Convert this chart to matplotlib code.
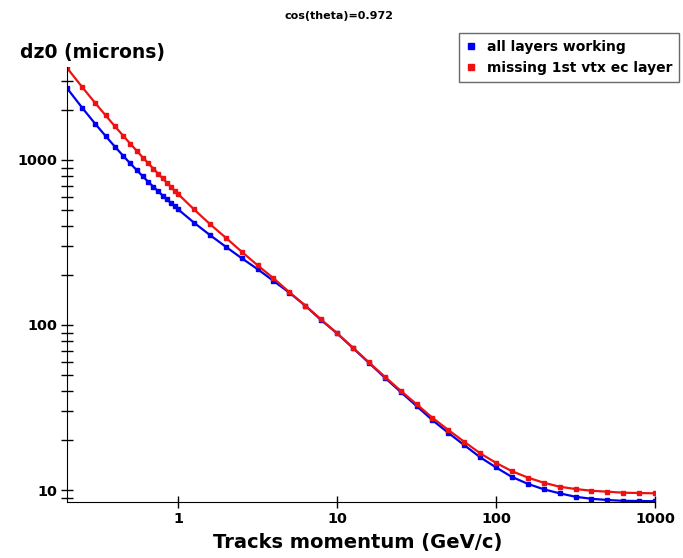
import numpy as np
import matplotlib
matplotlib.use("Agg")
import matplotlib.pyplot as plt
from matplotlib.lines import Line2D
from matplotlib.ticker import LogLocator, NullFormatter, FixedLocator, FixedFormatter, NullLocator

plt.rcParams['font.family'] = ['DejaVu Sans']
plt.rcParams['font.weight'] = 'bold'

# momentum points (GeV/c)
p_vals = [0.2, 0.25, 0.3, 0.35, 0.4, 0.45, 0.5, 0.55, 0.6, 0.65, 0.7, 0.75,
          0.8, 0.85, 0.9, 0.95, 1.0,
          1.259, 1.585, 1.995, 2.512, 3.162, 3.981, 5.012, 6.310, 7.943, 10.0,
          12.59, 15.85, 19.95, 25.12, 31.62, 39.81, 50.12, 63.10, 79.43, 100.0,
          125.9, 158.5, 199.5, 251.2, 316.2, 398.1, 501.2, 631.0, 794.3, 1000.0]

# dz0 resolution (microns), all layers working
dz_all = [2723, 2064, 1663, 1396, 1205, 1063, 953, 867, 795, 736, 687, 645,
          609, 577, 549, 524, 502,
          417, 351, 298, 254, 218, 185, 157, 131, 107, 89,
          72.5, 59, 48, 39.3, 32.3, 26.5, 22.2, 18.7, 15.8, 13.7,
          12.0, 10.9, 10.1, 9.55, 9.1, 8.85, 8.7, 8.6, 8.58, 8.55]

# dz0 resolution (microns), missing 1st vtx endcap layer
dz_miss = [3614, 2755, 2223, 1862, 1602, 1407, 1255, 1135, 1035, 953, 884, 824,
           773, 729, 689, 653, 622,
           502, 409, 338, 278, 230, 192, 158, 131, 108, 89.1,
           72.8, 59.4, 48.6, 40.0, 33.1, 27.4, 23.1, 19.6, 16.7, 14.6,
           13.0, 11.9, 11.07, 10.47, 10.14, 9.9, 9.77, 9.63, 9.59, 9.55]

fig = plt.figure(figsize=(6.83, 5.58), dpi=100)
ax = fig.add_axes([67/683, 1 - 502/558, (655 - 67)/683, (502 - 67)/558])

ax.plot(p_vals, dz_all, color='#0000ee', lw=1.6, marker='s', ms=2.6)
ax.plot(p_vals, dz_miss, color='#ee1111', lw=1.6, marker='s', ms=2.6)

ax.set_xscale('log')
ax.set_yscale('log')
ax.set_xlim(0.2, 1000)
ax.set_ylim(8.46, 3660)

ax.spines['top'].set_visible(False)
ax.spines['right'].set_visible(False)

ax.xaxis.set_major_locator(FixedLocator([1, 10, 100, 1000]))
ax.xaxis.set_major_formatter(FixedFormatter(['1', '10', '100', '1000']))
ax.xaxis.set_minor_locator(NullLocator())
ax.yaxis.set_major_locator(FixedLocator([10, 100, 1000]))
ax.yaxis.set_major_formatter(FixedFormatter(['10', '100', '1000']))
ax.yaxis.set_minor_locator(LogLocator(base=10, subs=np.arange(2, 10)))
ax.yaxis.set_minor_formatter(NullFormatter())

ax.tick_params(which='both', direction='inout', length=8, width=1, labelsize=10.4)
ax.tick_params(axis='x', pad=3)
ax.tick_params(axis='y', pad=3)

fig.text(20/683, 1 - 58/558, 'dz0 (microns)', fontsize=13.5, fontweight='bold',
         ha='left', va='baseline')
fig.text(358/683, 1 - 548/558, 'Tracks momentum (GeV/c)', fontsize=14,
         fontweight='bold', ha='center', va='baseline')
fig.text(339/683, 1 - 19/558, 'cos(theta)=0.972', fontsize=8,
         fontweight='bold', ha='center', va='baseline')

handles = [Line2D([], [], color='#0000ee', marker='s', ls='none', ms=5),
           Line2D([], [], color='#ee1111', marker='s', ls='none', ms=5)]
leg = fig.legend(handles, ['all layers working', 'missing 1st vtx ec layer'],
                 loc='upper right', bbox_to_anchor=(679/683, 1 - 33/558),
                 frameon=True, fancybox=False, edgecolor='#444444',
                 fontsize=10, handlelength=0.8, handletextpad=0.7,
                 borderpad=0.5, labelspacing=0.5, borderaxespad=0)
leg.get_frame().set_linewidth(1)

fig.savefig('out.png', dpi=100)
